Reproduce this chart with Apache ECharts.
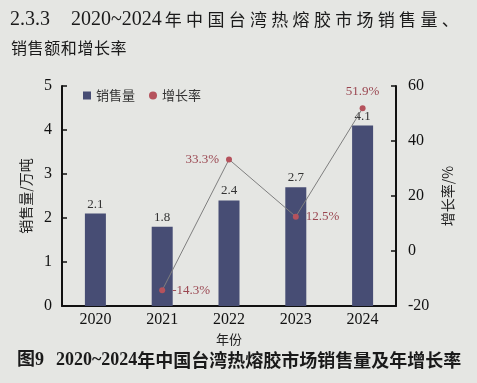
<!DOCTYPE html>
<html><head><meta charset="utf-8">
<script src="https://cdn.jsdelivr.net/npm/echarts@6/dist/echarts.min.js"></script>
<style>html,body{margin:0;padding:0;background:#e5e6e3;}#c{width:477px;height:383px;}</style>
</head><body><div id="c"></div>
<script>
const years = ['2020','2021','2022','2023','2024'];
const sales = [2.1, 1.8, 2.4, 2.7, 4.1];
const growth = [null, -14.3, 33.3, 12.5, 51.9];
const growthLabelPos = [null, 'right', 'left', 'right', 'top'];
const leftTicks = [0, 5, 1];
const rightTicks = [-20, 60, 20];

const serif = '"Liberation Serif","DejaVu Serif",serif';
const cjk = '"Noto Sans CJK SC",sans-serif';
const spaced = (s, key) => s.split('').map(ch => '{' + key + '|' + ch + '}').join('');
const chart = echarts.init(document.getElementById('c'));
chart.setOption({
  backgroundColor: '#e5e6e3',
  animation: false,
  title: [
    {text: '{n|2.3.3}{g|}{n|2020~2024}{p|}' + spaced('年中国台湾热熔胶市场销售量、', 'c'), left: 5, top: 5,
     textStyle: {fontWeight: 'normal', fontSize: 17, rich: {
       n: {fontFamily: serif, fontSize: 20, fontWeight: 'normal', color: '#1a1a1a'},
       g: {width: 21},
       p: {width: 3},
       c: {fontFamily: cjk, fontSize: 17, fontWeight: 'normal', color: '#1a1a1a', width: 21.3, align: 'left'}
     }}},
    {text: spaced('销售额和增长率', 'c'), left: 6, top: 35,
     textStyle: {fontWeight: 'normal', fontSize: 16, rich: {
       c: {fontFamily: cjk, fontSize: 16, fontWeight: 'normal', color: '#1a1a1a', width: 16.6, align: 'left'}
     }}},
    {text: '{n|图9}{g|}{n|2020~2024}{c|年中国台湾热熔胶市场销售量及年增长率}', left: 12, top: 346,
     textStyle: {fontWeight: 'bold', fontSize: 18, rich: {
       n: {fontFamily: serif + ',' + cjk, fontSize: 18, fontWeight: 'bold', color: '#1a1a1a'},
       g: {width: 12},
       c: {fontFamily: cjk, fontSize: 18, fontWeight: 'bold', color: '#1a1a1a'}
     }}}
  ],
  legend: {
    left: 78, top: 84, itemGap: 14, itemWidth: 8, itemHeight: 8,
    textStyle: {fontFamily: cjk, fontSize: 13, color: '#333'},
    data: [{name: '销售量', icon: 'rect'}, {name: '增长率', icon: 'circle'}]
  },
  grid: {left: 62, right: 81, top: 86, bottom: 77},
  xAxis: {
    type: 'category', data: years, name: '年份', nameLocation: 'middle', nameGap: 27,
    nameTextStyle: {fontFamily: cjk, fontSize: 13, color: '#222'},
    axisLine: {lineStyle: {color: '#111', width: 2}},
    axisTick: {show: false},
    axisLabel: {fontFamily: serif, fontSize: 16, color: '#111', margin: 6}
  },
  yAxis: [
    {type: 'value', min: leftTicks[0], max: leftTicks[1], interval: leftTicks[2],
     name: '销售量/万吨', nameLocation: 'middle', nameGap: 28, nameRotate: 90,
     nameTextStyle: {fontFamily: cjk, fontSize: 14, color: '#222'},
     axisLine: {show: true, lineStyle: {color: '#111', width: 2}},
     axisTick: {show: true, inside: true, length: 5, lineStyle: {color: '#111', width: 1.5}},
     axisLabel: {fontFamily: serif, fontSize: 16, color: '#111', margin: 10},
     splitLine: {show: false}},
    {type: 'value', min: rightTicks[0], max: rightTicks[1], interval: rightTicks[2],
     name: '增长率/%', nameLocation: 'middle', nameGap: 45, nameRotate: 90,
     nameTextStyle: {fontFamily: cjk, fontSize: 14, color: '#222'},
     axisLine: {show: true, lineStyle: {color: '#111', width: 2}},
     axisTick: {show: true, inside: true, length: 5, lineStyle: {color: '#111', width: 1.5}},
     axisLabel: {fontFamily: serif, fontSize: 16, color: '#111', margin: 12},
     splitLine: {show: false}}
  ],
  series: [
    {name: '销售量', type: 'bar', data: sales, barWidth: 21,
     itemStyle: {color: '#474d74'},
     label: {show: true, position: 'top', distance: 3, fontFamily: serif, fontSize: 13, color: '#333'}},
    {name: '增长率', type: 'line', yAxisIndex: 1,
     data: growth.map((v, i) => v === null ? null : {value: v, label: {position: growthLabelPos[i]}}),
     connectNulls: false, symbol: 'circle', symbolSize: 6,
     lineStyle: {color: '#7f7f7f', width: 1},
     itemStyle: {color: '#b5525c'},
     label: {show: true, fontFamily: serif, fontSize: 13, color: '#9a4650', distance: 7,
             formatter: p => p.value.toFixed(1) + '%'}}
  ]
});
</script></body></html>
